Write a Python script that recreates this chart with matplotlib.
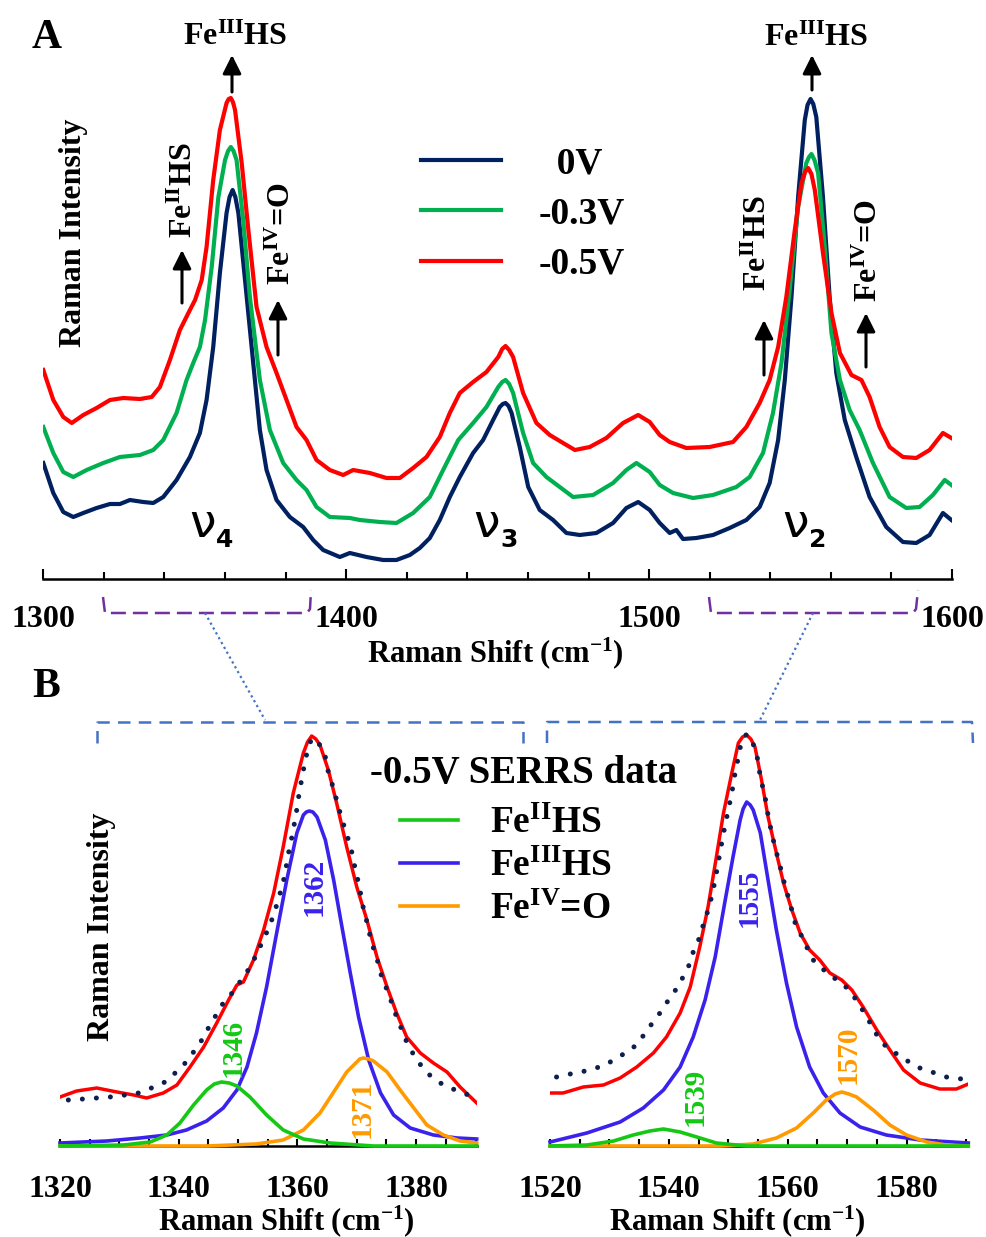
import matplotlib.pyplot as plt
from matplotlib.ticker import MultipleLocator

plt.rcParams['font.family'] = ['Liberation Serif', 'DejaVu Serif']
plt.rcParams['font.weight'] = 'bold'
plt.rcParams['mathtext.fontset'] = 'custom'
plt.rcParams['mathtext.rm'] = 'Liberation Serif:bold'
plt.rcParams['mathtext.bf'] = 'Liberation Serif:bold'
plt.rcParams['mathtext.it'] = 'Liberation Serif:bold'

# ---- panel A: SERRS spectra at three potentials (a.u.) ----
wn_0v = [1300, 1303.3, 1306.6, 1309.9, 1313.2, 1317.6, 1322, 1325.3, 1328.6, 1333, 1336.3, 1339.6, 1344,
         1348.4, 1351.7, 1353.9, 1356.1, 1358.3, 1360.5, 1361.5, 1362.5, 1363.4, 1364.4, 1366.6, 1369.3,
         1371.5, 1373.7, 1377, 1381.4, 1385.8, 1389.1, 1392.4, 1397.9, 1401.2, 1406.7, 1412.2, 1416.6, 1421,
         1424.3, 1427.6, 1430.9, 1434.2, 1437.5, 1441.9, 1445.2, 1448.5, 1450.7, 1451.7, 1452.6, 1453.6,
         1454.6, 1457.3, 1460.1, 1463.9, 1468.3, 1472.7, 1477.1, 1482.6, 1488.1, 1492.5, 1496.4, 1500.2,
         1503.5, 1506.8, 1509, 1511.2, 1515.6, 1521.1, 1526.6, 1532.1, 1536.5, 1539.8, 1542.6, 1544.8, 1547,
         1549.2, 1551.4, 1552.3, 1553.3, 1554.2, 1555.2, 1557.4, 1559.6, 1561.8, 1564.6, 1568.4, 1572.8,
         1578.3, 1583.8, 1588.2, 1592.6, 1597, 1599.8]
int_0v = [116, 86, 67, 62, 66, 71, 75, 75, 79, 77, 76, 82, 99, 122, 146, 179, 232, 306, 366, 382, 389, 382,
          366, 299, 216, 149, 109, 79, 62, 52, 39, 29, 22, 26, 22, 19, 19, 24, 31, 41, 59, 82, 102, 126, 139,
          159, 172, 175, 176, 173, 166, 132, 92, 69, 59, 46, 44, 46, 56, 71, 77, 69, 56, 46, 49, 40, 41, 44,
          51, 59, 72, 96, 139, 199, 282, 382, 459, 474, 480, 475, 462, 382, 282, 206, 159, 122, 82, 52, 37,
          36, 44, 66, 59]

wn_03v = [1300, 1303.3, 1306.6, 1309.9, 1314.3, 1319.8, 1325.3, 1331.9, 1336.3, 1339.6, 1344, 1347.3,
          1349.5, 1351.7, 1353.4, 1355.6, 1357.8, 1360, 1361, 1361.9, 1362.8, 1363.8, 1366, 1368.2, 1371.5,
          1374.8, 1379.2, 1383.6, 1386.9, 1390.2, 1394.6, 1401.2, 1404.5, 1411.1, 1416.6, 1422.1, 1427.6,
          1432, 1437, 1441.9, 1446.3, 1450.2, 1451.5, 1452.6, 1453.8, 1455.1, 1458.4, 1461.7, 1466.1,
          1470.5, 1474.9, 1481.5, 1488.1, 1492.5, 1495.8, 1500.2, 1503.5, 1507.9, 1514.5, 1521.1, 1528.8,
          1533.2, 1537.6, 1540.9, 1543.7, 1546.4, 1549.2, 1551.9, 1552.8, 1553.6, 1554.6, 1555.8, 1558,
          1560.2, 1563, 1566.2, 1569.5, 1573.9, 1579.4, 1584.9, 1589.3, 1593.7, 1597.6, 1599.8]
int_03v = [152, 126, 107, 102, 109, 116, 122, 124, 129, 139, 166, 199, 216, 232, 259, 312, 382, 419, 428,
           432, 428, 419, 359, 282, 199, 149, 116, 99, 89, 72, 62, 61, 59, 57, 56, 66, 82, 109, 139, 156,
           172, 192, 197, 199, 195, 186, 146, 116, 102, 92, 82, 84, 96, 109, 116, 107, 94, 86, 81, 84, 92,
           102, 126, 166, 216, 289, 372, 416, 422, 425, 419, 406, 332, 246, 199, 169, 149, 116, 82, 71, 72,
           84, 99, 94]

wn_05v = [1300, 1303.3, 1306.6, 1309.4, 1313.2, 1317.6, 1322, 1326.4, 1331.9, 1335.8, 1338.5, 1341.8,
          1345.1, 1347.9, 1350.1, 1352.3, 1353.9, 1356.1, 1358.3, 1360.5, 1361.2, 1361.9, 1362.6, 1363.3,
          1365.5, 1367.7, 1370.4, 1373.7, 1377, 1380.3, 1383.6, 1386.9, 1390.2, 1394.6, 1399, 1402.3,
          1407.8, 1413.3, 1417.7, 1422.1, 1426.5, 1430.9, 1434.2, 1437.5, 1441.9, 1446.3, 1450.2, 1451.5,
          1452.6, 1453.8, 1455.1, 1458.4, 1462.8, 1467.2, 1471.6, 1475.5, 1480.4, 1485.9, 1491.4, 1496.4,
          1500.2, 1503.5, 1506.8, 1512.3, 1520, 1527.7, 1532.1, 1536.5, 1539.8, 1542.6, 1545.3, 1548.1,
          1550.3, 1551.5, 1552.5, 1553.6, 1554.7, 1557.4, 1560.2, 1563, 1566.8, 1570.1, 1572.8, 1576.1,
          1579.4, 1583.8, 1588.2, 1592.6, 1597, 1599.8]
int_05v = [209, 179, 162, 156, 164, 171, 179, 181, 180, 182, 192, 219, 249, 266, 279, 299, 332, 399, 449,
           476, 480, 481, 477, 469, 416, 349, 272, 232, 206, 179, 152, 139, 119, 109, 104, 109, 106, 101,
           101, 111, 122, 142, 166, 186, 197, 207, 222, 230, 233, 229, 222, 186, 156, 144, 136, 129, 132,
           141, 156, 164, 157, 144, 137, 131, 132, 137, 152, 176, 199, 232, 282, 349, 396, 407, 411, 405,
           389, 326, 266, 226, 204, 199, 182, 152, 132, 122, 121, 129, 146, 141]

# ---- panel B, left: nu4 region fit of -0.5V data ----
wn_l_data = [1320, 1322.8, 1326.2, 1329.6, 1332.4, 1334.6, 1337.4, 1339.7, 1341.9, 1344.2, 1346.4, 1348.4,
             1349.8, 1350.9, 1352.6, 1354.3, 1356, 1357.6, 1359.3, 1361, 1361.7, 1362.4, 1363.1, 1363.8,
             1365.2, 1366.6, 1368.3, 1370, 1371.7, 1373.4, 1375.1, 1376.7, 1378.4, 1380.7, 1382.9, 1385.2,
             1387.4, 1390.2]
int_l_data = [49, 55, 58, 54, 51, 48, 53, 61, 79, 99, 123, 146, 161, 164, 186, 216, 253, 299, 353, 393, 404,
              410, 407, 401, 376, 343, 299, 259, 226, 189, 159, 133, 109, 93, 83, 74, 59, 43]
wn_l_fit = [1321.4, 1323.9, 1326.2, 1328.4, 1331, 1333.2, 1335.4, 1337.7, 1339.4, 1341.1, 1342.5, 1343.9,
            1345, 1346.3, 1347.5, 1349, 1350.3, 1351.7, 1352.9, 1354, 1355, 1356, 1357, 1357.8, 1358.5,
            1359.2, 1359.8, 1360.3, 1361, 1361.6, 1362.4, 1363.8, 1364.7, 1365.2, 1366, 1366.6, 1367.2,
            1367.9, 1368.6, 1369.2, 1369.7, 1370.3, 1371.1, 1371.7, 1372.2, 1372.8, 1373.6, 1374.2, 1375.1,
            1375.9, 1376.7, 1377.6, 1378.4, 1379.6, 1381, 1382.6, 1384.6, 1386.6, 1388.8]
int_l_fit = [46, 47, 48, 49, 51, 53, 58, 64, 73, 83, 94, 106, 118, 131, 143, 153, 164, 176, 189, 203, 216,
             231, 251, 269, 293, 313, 333, 353, 376, 393, 408, 401, 389, 374, 359, 346, 333, 319, 306, 293,
             278, 263, 238, 224, 211, 198, 183, 169, 156, 143, 129, 116, 104, 91, 79, 69, 61, 56, 51]
wn_l_fe3 = [1320, 1327.9, 1333.5, 1338, 1341.3, 1344.7, 1347.5, 1349.8, 1351.5, 1353.1, 1354.8, 1356.5,
            1358.2, 1359.9, 1361, 1361.5, 1362, 1362.6, 1363.3, 1364.7, 1366.1, 1367.5, 1368.9, 1370.3, 1372,
            1374, 1376.2, 1379, 1382.9, 1386.9, 1390.2]
int_l_fe3 = [3, 5, 8, 11, 16, 25, 38, 56, 79, 113, 159, 213, 266, 313, 331, 334, 335, 334, 329, 306, 266,
             219, 173, 129, 86, 53, 31, 18, 11, 8, 7]
wn_l_fe2 = [1320, 1330.7, 1335.2, 1338, 1340.2, 1342.5, 1344.7, 1346, 1347.2, 1348.5, 1349.8, 1352, 1354.8,
            1357.6, 1361, 1365.5, 1372.8, 1390.2]
int_l_fe2 = [0, 1, 4, 11, 23, 41, 56, 62, 64, 63, 60, 49, 31, 16, 7, 3, 0, 0]
wn_l_fe4 = [1320, 1344.7, 1353.1, 1357.6, 1361, 1363.8, 1366, 1368.3, 1370, 1370.5, 1371.1, 1372, 1372.8,
            1375.1, 1377.3, 1379.6, 1381.8, 1384.6, 1387.4, 1390.2]
int_l_fe4 = [0, 0, 2, 6, 16, 33, 53, 74, 84, 87, 88, 87, 85, 74, 56, 38, 21, 11, 5, 3]

# ---- panel B, right: nu2 region fit of -0.5V data ----
wn_r_data = [1520, 1522.2, 1525.6, 1529, 1531.8, 1534.6, 1537.4, 1539.6, 1541.9, 1543.6, 1545.2, 1546.6,
             1548, 1549.2, 1550.6, 1551.7, 1552.4, 1553.1, 1553.8, 1554.5, 1555.6, 1556.7, 1558.1, 1559.3,
             1560.7, 1562.1, 1563.7, 1565.4, 1567.1, 1569.1, 1570.8, 1572.7, 1575, 1577.2, 1579.5, 1582.3,
             1585.6, 1588.4, 1590.4]
int_r_data = [53, 53, 59, 61, 68, 79, 93, 109, 133, 159, 199, 239, 289, 333, 373, 403, 409, 411, 407, 399,
              366, 329, 293, 263, 236, 213, 196, 186, 173, 166, 156, 139, 116, 96, 76, 63, 57, 57, 62]
wn_r_fit = [1521.1, 1523.4, 1525.3, 1527, 1529, 1530.7, 1532.1, 1533.5, 1534.9, 1536.3, 1537.4, 1538.5,
            1539.6, 1540.8, 1541.9, 1542.7, 1543.6, 1544.1, 1545, 1545.5, 1546.1, 1546.6, 1547.2, 1547.8,
            1548.3, 1548.9, 1549.4, 1550, 1550.6, 1551.1, 1551.7, 1552.2, 1553.1, 1554.1, 1554.9, 1555.4,
            1556.2, 1556.7, 1557.3, 1557.9, 1558.6, 1559.3, 1560.1, 1560.7, 1561.2, 1562.1, 1563.2, 1564.3,
            1565.7, 1567.1, 1568.8, 1570.2, 1571.3, 1572.4, 1573.6, 1574.7, 1575.8, 1577.2, 1578.4, 1579.7,
            1581.4, 1583.1, 1584.8, 1586.7, 1588.4, 1590.1]
int_r_fit = [69, 72, 74, 77, 80, 86, 91, 96, 103, 116, 124, 133, 143, 153, 163, 173, 183, 194, 206, 216, 226,
             236, 249, 266, 283, 303, 319, 336, 353, 371, 389, 404, 412, 404, 388, 369, 349, 331, 313, 298,
             283, 266, 249, 236, 224, 213, 199, 186, 178, 171, 164, 157, 148, 138, 126, 114, 104, 96, 92, 87,
             80, 76, 73, 69, 68, 66]
wn_r_fe3 = [1520, 1526.2, 1531.8, 1535.7, 1539.1, 1541.9, 1544.1, 1546.1, 1547.8, 1549.4, 1550.8, 1552,
            1552.5, 1553.1, 1553.7, 1554.2, 1555.4, 1556.7, 1558.1, 1559.8, 1561.5, 1563.7, 1566, 1568.8,
            1572.2, 1576.6, 1582.3, 1590.4]
int_r_fe3 = [4, 13, 24, 38, 56, 79, 109, 146, 189, 243, 289, 326, 337, 344, 341, 336, 313, 266, 216, 163,
             119, 79, 53, 33, 19, 11, 6, 3]
wn_r_fe2 = [1520, 1526.2, 1530.7, 1534, 1536.8, 1539.1, 1541.9, 1544.7, 1548, 1553.1, 1590.4]
int_r_fe2 = [0, 1, 5, 11, 15, 17, 14, 9, 3, 0, 0]
wn_r_fe4 = [1520, 1548.6, 1554.2, 1558.1, 1561.5, 1564.3, 1566.5, 1568, 1569.1, 1570.3, 1571.6, 1574.4,
            1577.2, 1580, 1583.4, 1586.7, 1590.4]
int_r_fe4 = [0, 0, 2, 8, 18, 33, 46, 52, 54, 52, 49, 36, 21, 11, 4, 1, 0]

potentials = ['  0V', '-0.3V', '-0.5V']
fit_labels = [r'Fe$^{\rm II}$HS', r'Fe$^{\rm III}$HS', r'Fe$^{\rm IV}$=O']

NAVY, GREEN_A, RED = '#002060', '#00B050', '#FF0000'
GREEN_B, BLUE_B, ORANGE_B, DOTS = '#14C814', '#3A22EC', '#FF9A00', '#0E1F4F'

W, H = 986, 1237
fig = plt.figure(figsize=(W / 100, H / 100), dpi=100)


def box(l, r, b, t):
    return [l / W, 1 - b / H, (r - l) / W, (b - t) / H]


def style_axis(ax, major, minor, pad, maj_len, min_len):
    for s in ['left', 'right', 'top']:
        ax.spines[s].set_visible(False)
    ax.spines['bottom'].set_linewidth(1.8)
    ax.patch.set_visible(False)
    ax.set_yticks([])
    ax.xaxis.set_major_locator(MultipleLocator(major))
    ax.xaxis.set_minor_locator(MultipleLocator(minor))
    ax.tick_params(axis='x', which='major', direction='in', length=maj_len, width=1.5, pad=pad, labelsize=23)
    ax.tick_params(axis='x', which='minor', direction='in', length=min_len, width=1.5)


# panel A
ax_a = fig.add_axes(box(43.3, 952, 579, 89))
ax_a.set_xlim(1300, 1600)
ax_a.set_ylim(0, 490)
style_axis(ax_a, 100, 20, 19, 7, 5)
l0, = ax_a.plot(wn_0v, int_0v, color=NAVY, lw=3)
l1, = ax_a.plot(wn_03v, int_03v, color=GREEN_A, lw=3)
l2, = ax_a.plot(wn_05v, int_05v, color=RED, lw=3)
ax_a.legend([l0, l1, l2], potentials, loc='upper left', bbox_to_anchor=(421 / W, 1 - 146 / H),
            bbox_transform=fig.transFigure, frameon=False, fontsize=27, handlelength=2.13,
            handletextpad=1.0, labelspacing=0.41, borderpad=0, borderaxespad=0)

# panel B
ax_bl = fig.add_axes(box(60, 477.3, 1146, 725))
ax_bl.set_xlim(1320, 1390.3)
ax_br = fig.add_axes(box(550, 968.3, 1146, 725))
ax_br.set_xlim(1520, 1590.4)
for ax in (ax_bl, ax_br):
    ax.set_ylim(0, 421)
    style_axis(ax, 20, 5, 21, 5, 5)

ax_bl.plot(wn_l_data, int_l_data, color=RED, lw=2.5, zorder=3)
ax_bl.plot(wn_l_fit, int_l_fit, color=DOTS, lw=3.6, ls=(0, (0.01, 2.8)), dash_capstyle='round', zorder=4)
h_fe3, = ax_bl.plot(wn_l_fe3, int_l_fe3, color=BLUE_B, lw=2.6, zorder=3, clip_on=False)
h_fe4, = ax_bl.plot(wn_l_fe4, int_l_fe4, color=ORANGE_B, lw=2.6, zorder=3, clip_on=False)
h_fe2, = ax_bl.plot(wn_l_fe2, int_l_fe2, color=GREEN_B, lw=2.6, zorder=3, clip_on=False)

ax_br.plot(wn_r_data, int_r_data, color=RED, lw=2.5, zorder=3)
ax_br.plot(wn_r_fit, int_r_fit, color=DOTS, lw=3.6, ls=(0, (0.01, 2.8)), dash_capstyle='round', zorder=4)
ax_br.plot(wn_r_fe3, int_r_fe3, color=BLUE_B, lw=2.6, zorder=3, clip_on=False)
ax_br.plot(wn_r_fe4, int_r_fe4, color=ORANGE_B, lw=2.6, zorder=3, clip_on=False)
ax_br.plot(wn_r_fe2, int_r_fe2, color=GREEN_B, lw=2.6, zorder=3, clip_on=False)

ax_bl.legend([h_fe2, h_fe3, h_fe4], fit_labels, loc='upper left',
             bbox_to_anchor=(400 / W, 1 - 806 / H), bbox_transform=fig.transFigure, frameon=False,
             fontsize=27, handlelength=1.55, handletextpad=0.85,
             labelspacing=0.21, borderpad=0, borderaxespad=0)

# overlay in pixel coordinates for labels, arrows and zoom brackets
ov = fig.add_axes([0, 0, 1, 1])
ov.set_xlim(0, W)
ov.set_ylim(H, 0)
ov.axis('off')
ov.patch.set_visible(False)

ov.text(47, 48, 'A', fontsize=30, ha='center', va='baseline')
ov.text(46, 697, 'B', fontsize=30, ha='center', va='baseline')
ov.text(235, 45, r'Fe$^{\rm III}$HS', fontsize=23, ha='center', va='baseline')
ov.text(816, 46, r'Fe$^{\rm III}$HS', fontsize=23, ha='center', va='baseline')
ov.text(370, 783, '-0.5V SERRS data', fontsize=28, ha='left', va='baseline')
xlab = r'Raman Shift (cm$^{-1}$)'
ov.text(495, 662, xlab, fontsize=22, ha='center', va='baseline')
ov.text(286, 1230, xlab, fontsize=22, ha='center', va='baseline')
ov.text(737, 1230, xlab, fontsize=22, ha='center', va='baseline')

rot_labels = [
    (73, 233, 'Raman Intensity', 23, 'k'),
    (102, 927, 'Raman Intensity', 23, 'k'),
    (184, 190, r'Fe$^{\rm II}$HS', 23, 'k'),
    (282, 233, r'Fe$^{\rm IV}$=O', 23, 'k'),
    (758, 243, r'Fe$^{\rm II}$HS', 23, 'k'),
    (869, 250, r'Fe$^{\rm IV}$=O', 23, 'k'),
    (314, 887, '1362', 21, BLUE_B),
    (233, 1048, '1346', 21, GREEN_B),
    (362, 1109, '1371', 21, ORANGE_B),
    (749, 898, '1555', 21, BLUE_B),
    (695, 1097, '1539', 21, GREEN_B),
    (848, 1055, '1570', 21, ORANGE_B),
]
for x, y, s, fs, c in rot_labels:
    ov.text(x, y, s, fontsize=fs, color=c, rotation=90, ha='center', va='center')

for x, s, sub in [(203, 'ν', '4'), (487, 'ν', '3'), (796, 'ν', '2')]:
    ov.text(x, 537, s, fontsize=34, family='DejaVu Sans', fontweight='normal', ha='center', va='baseline')
    ov.text(x + 22, 547, sub, fontsize=18, family='DejaVu Sans', fontweight='bold', ha='center',
            va='baseline')

for x, tail, tip in [(232, 92, 55), (182, 303, 250), (278, 355, 300),
                     (812, 90, 55), (764, 375, 320), (866, 367, 313)]:
    ov.annotate('', xy=(x, tip), xytext=(x, tail),
                arrowprops=dict(arrowstyle='-|>', color='k', lw=2.2, mutation_scale=28,
                                shrinkA=0, shrinkB=0))

purple = '#7030A0'
ov.plot([103, 105, 307, 310, 311], [597, 613, 613, 609, 590], color=purple, lw=1.8, ls=(0, (6, 2.8)))
ov.plot([709, 711, 913, 916, 918], [597, 613, 613, 609, 590], color=purple, lw=1.8, ls=(0, (6, 2.8)))
blue_d = '#4472C4'
ov.plot([97, 97, 523, 523], [743, 722, 722, 743], color=blue_d, lw=1.8, ls=(0, (5, 3.3)))
ov.plot([547, 547, 972, 973], [743, 722, 722, 743], color=blue_d, lw=1.8, ls=(0, (5, 3.3)))
ov.plot([205, 265], [613, 720], color=blue_d, lw=1.6, ls=(0, (1, 1.5)))
ov.plot([813, 760], [613, 720], color=blue_d, lw=1.6, ls=(0, (1, 1.5)))

fig.savefig('out.png', dpi=100)
